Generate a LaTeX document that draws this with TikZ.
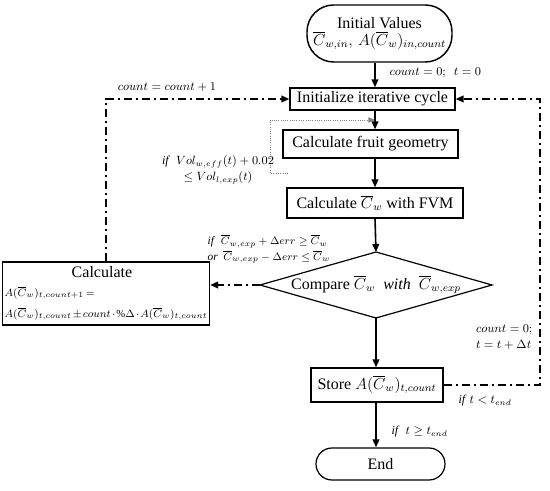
\documentclass[tikz,border=0pt]{standalone}
\usepackage{fontspec}
\setmainfont{Liberation Serif}
\usetikzlibrary{arrows.meta,calc}
\begin{document}
\begin{tikzpicture}[x=0.75pt,y=-0.75pt,
  box/.style={draw,line width=0.9pt,inner sep=2pt,font=\fontsize{12}{14}\selectfont},
  arr/.style={line width=1.2pt,-{Triangle[length=6pt,width=5pt]}},
  dd/.style={line width=1.2pt,dash pattern=on 6pt off 3pt on 1.5pt off 3pt},
  ddarr/.style={dd,-{Triangle[length=6pt,width=5pt]}},
  lbl/.style={font=\fontsize{9}{12}\selectfont,inner sep=1pt}]
\useasboundingbox (0,0) rectangle (550,491);
\coordinate (axis) at (375,0);
\node[box,rounded corners=20pt,line width=1.1pt,minimum width=108.75pt,minimum height=42.75pt,align=center] (init) at (379.5,33.5)
  {Initial Values\\[-1pt] $\overline{C}_{w,in},\, A(\overline{C}_w)_{in,count}$};
\node[box,minimum width=123.75pt,minimum height=16.5pt,inner sep=0pt] (cycle) at (372.5,99) {Initialize iterative cycle};
\node[box,minimum width=131.25pt,minimum height=21pt] (fruit) at (370.5,144) {Calculate fruit geometry};
\node[box,minimum width=132pt,minimum height=22.5pt] (fvm) at (375,203) {Calculate $\overline{C}_w$ with FVM};
\coordinate (dt) at (376,252);
\coordinate (dl) at (260,285);
\coordinate (dr) at (492,285);
\coordinate (db) at (376,318);
\draw[line width=0.9pt] (dt) -- (dr) -- (db) -- (dl) -- cycle;
\node[font=\fontsize{12}{14}\selectfont] (cmp) at (376,285) {Compare $\overline{C}_w$ \ $\mathit{with}$ \ $\overline{C}_{w,exp}$};
\node[box,line width=1.1pt,minimum width=150pt,minimum height=47.25pt,align=left,inner sep=1.5pt] (calc) at (106,293.5)
  {\makebox[146pt][c]{Calculate}\\
   {\fontsize{8}{10}\selectfont\medmuskip=2mu\thickmuskip=3mu $A(\overline{C}_w)_{t,count+1} =$}\\[2pt]
   {\fontsize{8}{10}\selectfont\medmuskip=2mu\thickmuskip=3mu $A(\overline{C}_w)_{t,count}\pm count\cdot\%\Delta\cdot A(\overline{C}_w)_{t,count}$}};
\node[box,minimum width=99pt,minimum height=25.5pt] (store) at (377,385) {Store $A(\overline{C}_w)_{t,count}$};
\node[box,rounded corners=12pt,minimum width=96.75pt,minimum height=24pt] (end) at (380.5,464) {End};
% main arrows
\draw[arr] (init.south -| axis) -- (cycle.north -| axis);
\draw[arr] (cycle.south -| axis) -- (fruit.north -| axis);
\draw[arr] (fruit.south -| axis) -- (fvm.north -| axis);
\draw[arr] (fvm.south -| axis) -- (dt);
\draw[arr] (db) -- (store.north -| db);
\draw[arr] (store.south -| db) -- (end.north -| db);
% dotted loop
\coordinate (ds) at (288,173);
\coordinate (dj) at (375,120);
\draw[densely dotted,gray,line width=0.7pt,-{Triangle[length=5pt,width=4pt]}] (ds) -- (270,173) -- (270,120) -- (dj);
% dash-dot loops
\draw[ddarr] (dl) -- (calc.east |- dl);
\draw[ddarr] (calc.north) |- (cycle.west);
\draw[ddarr] (store.east) -- (540,385) |- (cycle.east);
% labels
\node[lbl,anchor=west] (l1) at (388,73) {$count = 0;\ \ t = 0$};
\node[lbl,align=center] (l2) at (218,170) {\textit{if} \ $Vol_{w,eff}(t)+0.02$\\ $\le Vol_{l,exp}(t)$};
\node[lbl,align=left,anchor=west,font=\fontsize{8.5}{11.5}\selectfont] (l3) at (206,249) {\textit{if} \ $\overline{C}_{w,exp}+\Delta err\ge \overline{C}_w$\\ \textit{or} \ $\overline{C}_{w,exp}-\Delta err\le \overline{C}_w$};
\node[lbl] (l4) at (167,87) {$count = count + 1$};
\node[lbl,align=left,anchor=east] (l5) at (534,337) {$count = 0;$\\ $t = t+\Delta t$};
\node[lbl,anchor=west] (l6) at (457,401) {\textit{if} $t<t_{end}$};
\node[lbl,anchor=west] (l7) at (390,432) {\textit{if} \ $t\ge t_{end}$};
\end{tikzpicture}
\end{document}
